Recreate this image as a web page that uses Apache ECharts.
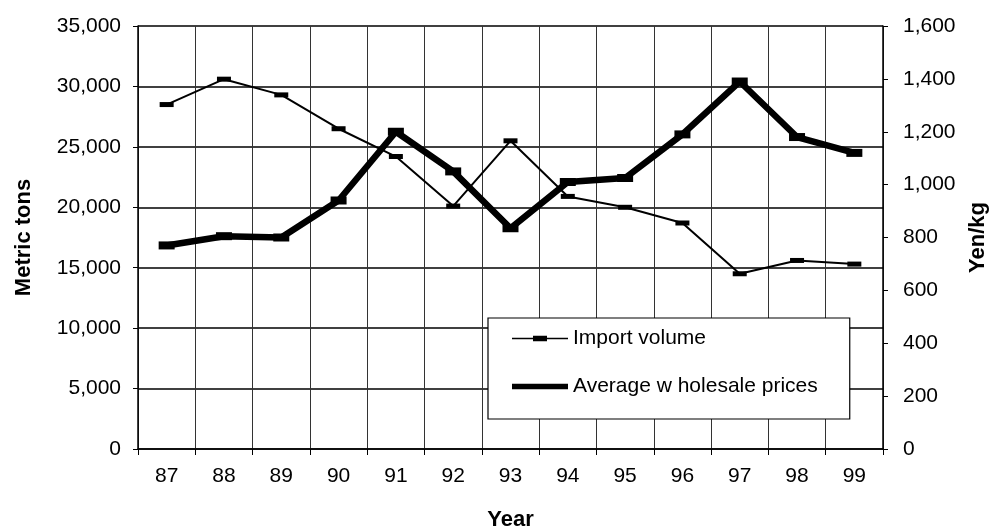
<!DOCTYPE html>
<html>
<head>
<meta charset="utf-8">
<script src="https://cdn.jsdelivr.net/npm/echarts@6/dist/echarts.min.js"></script>
<style>
html,body{margin:0;padding:0;background:#fff;}
#chart{width:989px;height:530px;}
</style>
</head>
<body>
<div id="chart"></div>
<script>
const years = ['87','88','89','90','91','92','93','94','95','96','97','98','99'];
const importVolume = [28500, 30600, 29300, 26500, 24200, 20100, 25500, 20900, 20000, 18700, 14500, 15600, 15300];
const wholesalePrices = [770, 805, 800, 940, 1200, 1050, 835, 1010, 1025, 1190, 1390, 1180, 1120];
const leftTicks = [0, 35000, 5000];
const rightTicks = [0, 1600, 200];

const FONT = '"Liberation Sans", Arial, sans-serif';
const chart = echarts.init(document.getElementById('chart'), null, {renderer: 'canvas'});
const fmt = v => v.toLocaleString('en-US');

chart.setOption({
  backgroundColor: '#ffffff',
  animation: false,
  textStyle: {fontFamily: FONT, color: '#000'},
  grid: {left: 138, right: 106, top: 26, bottom: 81, containLabel: false, outerBoundsMode: 'none'},
  legend: {
    orient: 'vertical',
    left: 488,
    top: 318,
    padding: [10, 32, 22, 24],
    itemGap: 27,
    itemWidth: 56,
    itemHeight: 20,
    borderColor: '#000',
    borderWidth: 1.2,
    backgroundColor: '#fff',
    textStyle: {fontFamily: FONT, fontSize: 21, color: '#000'},
    data: [
      {name: 'Import volume', icon: 'path://M0,4 L56,4 L56,5.6 L0,5.6 Z M21,2 L35,2 L35,7.6 L21,7.6 Z'},
      {name: 'Average w holesale prices', icon: 'path://M0,0 L60,0 L60,6 L0,6 Z'}
    ]
  },
  xAxis: {
    type: 'category',
    data: years,
    boundaryGap: true,
    name: 'Year',
    nameLocation: 'middle',
    nameGap: 60,
    nameTextStyle: {fontFamily: FONT, fontSize: 22, fontWeight: 'bold', color: '#000'},
    axisLine: {show: true, lineStyle: {color: '#000', width: 1.5}},
    axisTick: {show: true, length: 6, interval: 0, lineStyle: {color: '#000', width: 1}},
    axisLabel: {interval: 0, margin: 17, fontSize: 21, color: '#000', fontFamily: FONT},
    splitLine: {show: true, interval: 0, lineStyle: {color: '#333', width: 1}}
  },
  yAxis: [
    {
      type: 'value',
      position: 'left',
      min: leftTicks[0], max: leftTicks[1], interval: leftTicks[2],
      name: 'Metric tons',
      nameLocation: 'middle',
      nameRotate: 90,
      nameGap: 103,
      nameTextStyle: {fontFamily: FONT, fontSize: 22, fontWeight: 'bold', color: '#000'},
      axisLine: {show: true, lineStyle: {color: '#000', width: 1.5}},
      axisTick: {show: true, length: 5, lineStyle: {color: '#000', width: 1}},
      axisLabel: {margin: 17, fontSize: 21, color: '#000', fontFamily: FONT, formatter: fmt},
      splitLine: {show: true, lineStyle: {color: '#000', width: 1.5}}
    },
    {
      type: 'value',
      position: 'right',
      min: rightTicks[0], max: rightTicks[1], interval: rightTicks[2],
      name: 'Yen/kg',
      nameLocation: 'middle',
      nameRotate: 90,
      nameGap: 83,
      nameTextStyle: {fontFamily: FONT, fontSize: 22, fontWeight: 'bold', color: '#000'},
      axisLine: {show: true, lineStyle: {color: '#000', width: 1.5}},
      axisTick: {show: true, length: 5, lineStyle: {color: '#000', width: 1}},
      axisLabel: {margin: 20, fontSize: 21, color: '#000', fontFamily: FONT, formatter: fmt},
      splitLine: {show: false}
    }
  ],
  series: [
    {
      name: 'Import volume',
      type: 'line',
      yAxisIndex: 0,
      data: importVolume,
      color: '#000',
      symbol: 'rect',
      symbolSize: [14, 5],
      showAllSymbol: true,
      lineStyle: {color: '#000', width: 2},
      itemStyle: {color: '#000'},
      z: 3
    },
    {
      name: 'Average w holesale prices',
      type: 'line',
      yAxisIndex: 1,
      data: wholesalePrices,
      color: '#000',
      symbol: 'rect',
      symbolSize: [16, 8],
      showAllSymbol: true,
      lineStyle: {color: '#000', width: 6.5, join: 'round'},
      itemStyle: {color: '#000'},
      z: 4
    }
  ]
});
</script>
</body>
</html>
